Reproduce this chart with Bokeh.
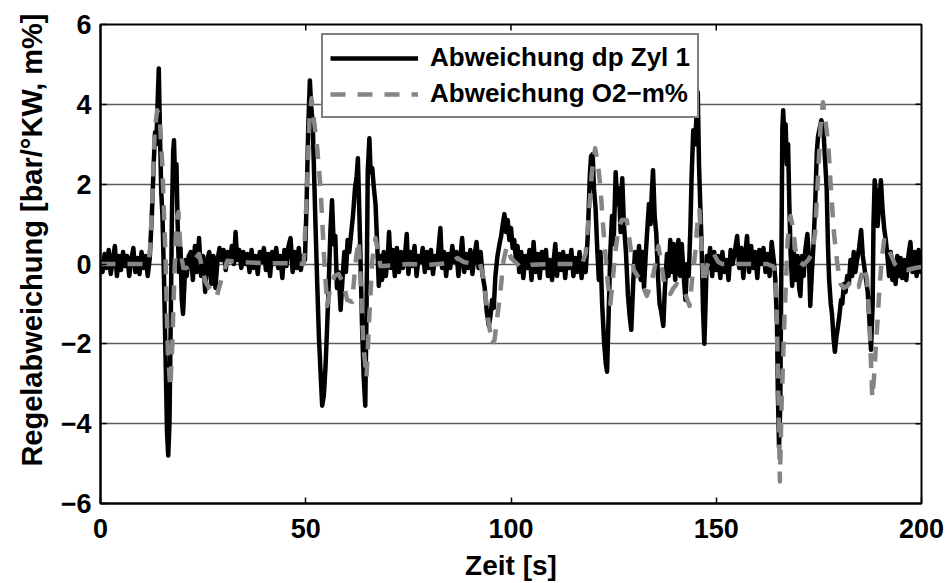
from bokeh.plotting import figure
from bokeh.models import Range1d, FixedTicker, Legend, LegendItem, Title
from bokeh.embed import file_html
from bokeh.resources import INLINE

# Achsen-Ticks
x_ticks = [0, 50, 100, 150, 200]
y_ticks = [-6, -4, -2, 0, 2, 4, 6]
y_tick_labels = {-6: "\u22126", -4: "\u22124", -2: "\u22122", 0: "0", 2: "2", 4: "4", 6: "6"}

# Regelabweichung dp Zylinder 1: (Zeit [s], Wert)
dp_zyl1_punkte = [
    (0.0, 0.1), (0.5, -0.2), (1.0, 0.25), (1.5, -0.1), (2.0, 0.35), (2.5, -0.25), (3.0, 0.1), (3.5, 0.45),
    (4.0, -0.3), (4.5, 0.2), (5.0, -0.15), (5.5, 0.3), (6.0, -0.05), (6.5, 0.2), (7.0, -0.3), (7.5, 0.1),
    (8.0, 0.4), (8.5, -0.2), (9.0, 0.15), (9.5, -0.25), (10.0, 0.3), (10.5, -0.1), (11.0, 0.2), (11.5, -0.3),
    (12.0, 0.15), (12.5, 1.2), (13.0, 2.6), (13.3, 3.3), (13.6, 3.0), (13.9, 4.0), (14.2, 4.9), (14.5, 3.2),
    (14.8, 1.8), (15.1, 1.2), (15.5, -0.5), (15.9, -2.6), (16.2, -4.2), (16.5, -4.8), (16.8, -4.0), (17.1, -1.5),
    (17.4, 1.2), (17.7, 2.8), (17.9, 3.1), (18.2, 2.0), (18.5, 2.5), (18.8, 1.0), (19.1, -0.2), (19.5, 0.4),
    (19.8, -0.9), (20.1, -1.25), (20.4, -0.6), (20.7, 0.1), (21.0, -0.3), (21.5, 0.2), (22.0, 0.3), (22.5, -0.4),
    (23.0, 0.45), (23.5, -0.2), (24.0, 0.65), (24.5, -0.3), (25.0, 0.2), (25.5, -0.7), (26.0, 0.1), (26.5, 0.3),
    (27.0, -0.5), (27.5, 0.2), (28.0, -0.6), (28.5, 0.1), (29.0, 0.4), (29.5, 0.1), (30.0, 0.35), (30.5, -0.15),
    (31.0, 0.3), (31.5, 0.1), (32.0, 0.45), (32.5, 0.0), (32.9, 0.8), (33.3, 0.1), (33.8, 0.35), (34.3, -0.1),
    (34.8, 0.3), (35.3, 0.0), (35.8, 0.25), (36.3, -0.2), (36.8, 0.35), (37.3, -0.1), (37.8, 0.2), (38.3, -0.25),
    (38.8, 0.3), (39.3, 0.05), (39.8, 0.4), (40.3, -0.15), (40.8, 0.25), (41.3, -0.3), (41.8, 0.3), (42.3, 0.0),
    (42.8, 0.4), (43.3, -0.1), (43.8, 0.2), (44.3, -0.35), (44.8, 0.35), (45.3, -0.05), (45.8, 0.45), (46.3, 0.65),
    (46.8, -0.2), (47.3, 0.3), (47.8, -0.1), (48.3, 0.4), (48.8, -0.15), (49.3, 0.2), (49.8, 0.1), (50.2, 1.5),
    (50.6, 3.4), (51.0, 4.6), (51.3, 4.0), (51.7, 3.5), (52.1, 2.0), (52.4, 0.9), (52.8, -0.5), (53.2, -1.8),
    (53.6, -2.7), (54.0, -3.55), (54.4, -3.3), (54.8, -2.6), (55.2, -1.6), (55.6, -0.5), (56.0, 0.8), (56.4, 1.6),
    (56.8, 0.5), (57.2, 0.7), (57.6, -0.6), (58.0, -0.2), (58.5, -1.15), (59.0, -0.3), (59.4, 0.3), (59.8, -0.2),
    (60.2, 0.6), (60.6, 0.3), (61.0, 0.7), (61.5, 1.2), (62.0, 1.9), (62.4, 2.2), (62.7, 2.65), (63.0, 1.5),
    (63.3, 0.3), (63.7, -1.5), (64.1, -2.8), (64.5, -3.55), (64.8, -1.2), (65.1, 2.3), (65.5, 3.15), (65.8, 2.3),
    (66.2, 2.4), (66.6, 1.9), (67.0, 1.5), (67.4, 0.5), (67.8, -0.55), (68.2, 0.2), (68.6, -0.4), (69.0, 0.3),
    (69.5, -0.3), (70.0, 0.2), (70.3, 0.8), (70.7, -0.1), (71.2, 0.35), (71.7, -0.3), (72.2, 0.4), (72.7, -0.2),
    (73.2, 0.3), (73.7, -0.1), (74.2, 0.25), (74.6, 0.75), (75.0, -0.25), (75.5, 0.3), (76.0, -0.05), (76.5, 0.45),
    (77.0, -0.3), (77.5, 0.2), (78.0, 0.05), (78.5, 0.4), (79.0, -0.2), (79.5, 0.3), (80.0, -0.1), (80.5, 0.35),
    (81.0, -0.25), (81.5, 0.2), (82.0, 0.0), (82.4, 0.45), (82.8, 0.9), (83.2, -0.1), (83.7, 0.3), (84.2, -0.3),
    (84.7, 0.25), (85.2, -0.1), (85.7, 0.45), (86.2, 0.05), (86.7, 0.3), (87.2, -0.3), (87.7, 0.2), (88.1, 0.65),
    (88.6, -0.2), (89.1, 0.25), (89.6, -0.1), (90.1, 0.35), (90.6, -0.25), (91.1, 0.2), (91.6, 0.55), (92.1, -0.1),
    (92.6, 0.3), (93.1, -0.3), (93.6, -0.6), (94.1, -1.2), (94.6, -1.55), (95.0, -1.3), (95.4, -0.9), (95.8, -1.1),
    (96.2, -0.3), (96.7, 0.2), (97.2, 0.5), (97.6, 0.7), (98.0, 1.0), (98.4, 1.25), (98.8, 0.8), (99.2, 1.1),
    (99.6, 0.6), (100.0, 0.9), (100.4, 0.4), (100.8, 0.6), (101.2, 0.1), (101.6, 0.45), (102.0, -0.2), (102.5, 0.3),
    (103.0, -0.35), (103.5, 0.2), (104.0, -0.1), (104.5, 0.35), (105.0, -0.4), (105.5, 0.55), (106.0, -0.2), (106.5, 0.25),
    (107.0, -0.35), (107.5, 0.3), (108.0, -0.1), (108.5, 0.35), (109.0, -0.3), (109.5, 0.1), (110.0, -0.4), (110.5, 0.2),
    (110.8, 0.5), (111.2, -0.3), (111.7, 0.25), (112.2, -0.15), (112.7, 0.3), (113.2, -0.35), (113.7, 0.2), (114.2, -0.1),
    (114.7, 0.35), (115.2, -0.3), (115.7, 0.15), (116.2, -0.2), (116.7, 0.3), (117.2, -0.35), (117.7, 0.1), (118.2, -0.2),
    (118.7, 0.7), (119.2, 2.2), (119.5, 2.7), (119.9, 2.75), (120.2, 1.9), (120.6, 1.4), (121.0, 0.4), (121.4, -0.4),
    (121.8, 0.3), (122.2, -1.0), (122.7, -2.0), (123.1, -2.5), (123.4, -2.7), (123.8, -1.2), (124.2, 0.3), (124.6, 1.2),
    (125.0, 0.5), (125.5, 2.3), (125.9, 1.5), (126.3, 1.9), (126.7, 0.8), (127.1, 2.15), (127.5, 1.0), (128.0, 0.3),
    (128.5, -0.8), (128.9, -1.3), (129.3, -1.65), (129.8, -0.4), (130.2, 0.3), (130.7, -0.2), (131.2, 0.45), (131.6, -0.4),
    (132.0, 0.3), (132.4, -0.6), (132.8, 0.2), (133.1, 0.7), (133.6, 1.5), (134.0, 1.0), (134.3, 1.8), (134.6, 2.35),
    (135.0, 1.2), (135.4, 0.75), (135.8, -0.3), (136.2, -1.0), (136.6, -1.2), (137.1, -1.55), (137.5, -0.6), (138.0, 0.25),
    (138.4, -0.3), (138.8, 0.6), (139.2, -0.2), (139.6, 0.5), (140.0, -0.4), (140.4, 0.3), (140.8, 0.6), (141.2, -0.3),
    (141.6, 0.5), (142.0, -0.2), (142.5, -0.9), (142.9, 0.0), (143.3, -0.3), (143.7, 0.9), (144.0, 2.2), (144.4, 3.35),
    (144.8, 3.0), (145.2, 3.7), (145.5, 4.3), (145.8, 2.5), (146.1, 1.5), (146.4, 0.6), (146.8, -1.2), (147.1, -2.0),
    (147.4, -1.0), (147.7, 0.2), (148.1, -0.1), (148.5, 0.4), (149.0, -0.3), (149.5, 0.3), (150.0, -0.15), (150.5, 0.2),
    (151.0, -0.35), (151.5, 0.3), (152.0, -0.2), (152.5, 0.1), (153.0, -0.4), (153.5, 0.35), (154.0, 0.0), (154.5, 0.3),
    (155.1, 0.7), (155.6, -0.1), (156.1, 0.4), (156.6, -0.35), (157.0, 0.2), (157.5, 0.7), (158.0, -0.2), (158.5, 0.45),
    (159.0, -0.1), (159.5, 0.3), (160.0, -0.35), (160.5, 0.35), (161.0, 0.0), (161.5, 0.4), (162.0, -0.2), (162.5, 0.25),
    (163.0, -0.3), (163.5, 0.55), (164.0, 0.1), (164.4, -0.4), (164.8, -1.5), (165.0, -3.2), (165.3, -4.6), (165.6, -3.5),
    (165.9, 0.5), (166.1, 3.4), (166.3, 3.85), (166.6, 3.2), (166.9, 3.5), (167.2, 2.5), (167.5, 3.0), (167.8, 1.5),
    (168.1, 0.3), (168.5, -0.55), (168.9, 0.3), (169.3, -0.4), (169.8, 0.2), (170.2, -0.6), (170.5, -0.8), (170.9, 0.2),
    (171.3, -0.3), (171.7, 0.35), (172.2, 0.75), (172.6, 0.1), (172.9, -1.05), (173.3, -0.2), (173.7, 0.5), (174.1, 1.5),
    (174.5, 2.8), (174.8, 3.2), (175.2, 3.4), (175.6, 3.6), (176.1, 3.4), (176.5, 2.6), (176.9, 1.9), (177.2, 0.5),
    (177.5, -0.4), (177.9, -1.0), (178.2, -1.25), (178.6, -1.9), (178.9, -2.2), (179.3, -1.8), (179.6, -1.6), (180.0, -1.3),
    (180.4, -0.9), (180.7, -1.0), (181.1, -0.5), (181.5, -0.7), (181.9, -0.3), (182.3, -0.5), (182.7, 0.1), (183.1, -0.3),
    (183.5, 0.3), (183.9, -0.2), (184.3, 0.1), (184.8, 0.4), (185.3, 0.85), (185.7, 0.2), (186.1, -0.1), (186.5, -0.4),
    (186.9, -0.7), (187.3, -1.4), (187.7, -2.15), (188.1, -1.0), (188.3, 1.0), (188.6, 2.1), (188.9, 1.8), (189.3, 0.95),
    (189.7, 1.5), (190.1, 2.1), (190.5, 1.4), (190.9, 0.9), (191.3, 0.6), (191.7, 0.2), (192.1, -0.3), (192.5, 0.3),
    (192.9, -0.4), (193.3, 0.0), (193.7, -0.5), (194.1, 0.2), (194.5, -0.3), (194.9, 0.15), (195.3, -0.35), (195.8, 0.1),
    (196.3, -0.4), (196.8, 0.2), (197.3, 0.55), (197.8, -0.2), (198.3, 0.3), (198.8, -0.3), (199.3, 0.35), (199.8, -0.2),
    (200.0, 0.1),
]

# Regelabweichung O2-Massenanteil: (Zeit [s], Wert)
o2_punkte = [
    (0.0, 0.0), (11.5, 0.0), (12.0, 0.27), (12.6, 1.5), (13.2, 3.35), (13.8, 3.85), (14.4, 3.7), (15.0, 2.6),
    (15.4, 1.5), (15.8, 0.3), (16.4, -2.2), (17.0, -3.1), (17.5, -2.0), (17.9, -0.6), (18.5, 1.1), (19.0, 1.3),
    (19.5, 0.3), (20.2, -0.1), (21.0, -0.1), (22.3, 0.0), (23.2, 0.15), (24.0, 0.25), (25.0, -0.2), (25.6, -0.45),
    (26.6, -0.62), (28.3, -0.82), (29.6, -0.32), (30.9, 0.08), (33.3, 0.05), (40.0, 0.02), (46.3, 0.02), (49.5, 0.0),
    (50.3, 1.9), (50.9, 3.6), (51.4, 4.15), (52.0, 3.6), (52.8, 2.9), (53.6, 1.9), (54.4, 0.3), (55.2, -1.05),
    (56.0, -0.6), (57.0, -0.3), (58.0, -0.25), (59.2, -0.5), (60.1, -0.9), (61.3, -0.95), (62.2, 0.1), (62.9, 0.6),
    (63.4, -0.5), (64.1, -2.1), (64.8, -2.85), (65.4, -1.5), (66.2, 0.1), (67.0, 0.65), (67.6, 0.3), (68.2, -0.05),
    (69.0, -0.05), (75.0, 0.0), (80.0, -0.02), (85.0, 0.02), (86.9, 0.15), (88.5, 0.05), (90.0, 0.02), (92.5, 0.0),
    (93.2, -0.3), (93.8, -0.8), (94.6, -1.5), (95.4, -2.0), (96.0, -1.9), (96.7, -1.3), (97.4, -0.7), (98.2, 0.1),
    (99.0, 0.45), (100.0, 0.15), (101.0, 0.05), (102.0, -0.05), (103.1, -0.08), (105.0, -0.02), (110.0, 0.0), (117.3, 0.0),
    (118.2, 0.27), (119.0, 1.3), (119.7, 2.3), (120.5, 2.9), (121.2, 2.5), (121.8, 1.9), (122.4, 1.0), (123.0, 0.25),
    (123.6, -0.5), (124.2, -1.0), (124.8, -0.4), (125.4, 0.3), (126.2, 0.9), (127.0, 1.1), (128.2, 1.1), (129.0, 0.5),
    (129.9, -0.15), (131.5, -0.4), (132.3, -0.6), (133.1, -0.8), (134.0, -0.5), (134.7, -0.25), (135.9, 0.45), (136.5, 0.1),
    (137.2, -0.4), (138.0, -0.6), (138.8, -0.75), (139.6, -0.6), (140.4, -0.5), (141.2, -0.55), (142.0, -0.65), (142.8, -0.85),
    (143.5, -1.05), (144.2, -0.3), (144.9, 0.3), (145.4, 1.0), (145.9, 1.35), (146.4, 0.5), (146.9, -0.5), (147.8, -0.05),
    (148.6, 0.2), (149.4, 0.25), (150.5, 0.05), (151.5, 0.0), (155.0, 0.0), (160.0, 0.0), (162.4, 0.0), (164.0, -0.07),
    (164.6, -0.6), (165.1, -3.1), (165.5, -5.45), (165.9, -3.6), (166.6, -1.4), (167.4, 0.6), (168.1, 1.2), (168.7, 0.9),
    (169.3, 0.35), (170.3, 0.05), (171.3, -0.02), (172.4, 0.1), (173.4, 0.27), (174.1, 0.8), (174.6, 1.8), (175.4, 3.45),
    (176.0, 4.05), (176.9, 3.35), (177.4, 2.8), (177.8, 2.1), (178.7, 0.75), (179.5, 0.0), (180.3, -0.5), (181.1, -0.6),
    (181.9, -0.55), (182.7, -0.45), (183.5, -0.4), (184.1, -0.5), (184.7, -0.57), (185.3, -0.3), (185.9, -0.07), (186.7, -0.35),
    (187.2, -1.2), (187.6, -2.2), (188.0, -3.35), (188.4, -2.9), (188.8, -2.2), (189.3, -1.4), (189.7, -0.7), (190.3, 0.1),
    (190.9, 0.6), (191.7, 0.4), (192.5, 0.25), (193.5, 0.0), (194.5, -0.12), (196.6, -0.15), (198.5, -0.1), (200.0, -0.07),
]

zeit_dp = [t for t, _ in dp_zyl1_punkte]
dp_zyl1 = [v for _, v in dp_zyl1_punkte]
zeit_o2 = [t for t, _ in o2_punkte]
o2_m = [v for _, v in o2_punkte]

FONT = "Liberation Sans"
X_MIN, X_MAX, Y_MIN, Y_MAX = 0, 200, -6, 6

p = figure(
    width=950, height=583,
    x_range=Range1d(X_MIN, X_MAX), y_range=Range1d(Y_MIN, Y_MAX),
    output_backend="svg", toolbar_location=None,
    min_border_left=100, min_border_right=29, min_border_top=24, min_border_bottom=80,
)
p.background_fill_color = "white"
p.border_fill_color = "white"
p.outline_line_color = "black"
p.outline_line_width = 2

# Gitter nur horizontal
p.xgrid.visible = False
p.ygrid.ticker = FixedTicker(ticks=y_ticks)
p.ygrid.grid_line_color = "#5c5c5c"
p.ygrid.grid_line_width = 1.3


def style_axis(ax, ticks):
    ax.ticker = FixedTicker(ticks=ticks)
    ax.major_tick_in = 6
    ax.major_tick_out = 0
    ax.minor_tick_in = 0
    ax.minor_tick_out = 0
    ax.major_tick_line_color = "black"
    ax.major_tick_line_width = 1.5
    ax.axis_line_color = "black"
    ax.axis_line_width = 2
    ax.major_label_text_font = FONT
    ax.major_label_text_font_style = "bold"
    ax.major_label_text_font_size = "27px"
    ax.major_label_text_color = "black"
    ax.axis_label_text_font = FONT
    ax.axis_label_text_font_style = "bold"
    ax.axis_label_text_font_size = "28px"
    ax.axis_label_text_color = "black"


xa = p.xaxis[0]
style_axis(xa, x_ticks)
xa.axis_label = "Zeit [s]"
xa.major_label_standoff = 15
xa.axis_label_standoff = 9

ya = p.yaxis[0]
style_axis(ya, y_ticks)
ya.major_label_overrides = y_tick_labels
ya.major_label_standoff = 9

# y-Beschriftung als eigener Titel, nach oben versetzt
y_title = Title(
    text="Regelabweichung [bar/°KW, m%]",
    align="right", offset=-11,
    text_font=FONT, text_font_style="bold", text_font_size="29px",
    text_color="black", standoff=20,
)
p.add_layout(y_title, "left")

# Innen-Ticks an der oberen und rechten Rahmenkante
tick_len_y = 0.15
tick_len_x = 1.46
top_x = [t for t in x_ticks if X_MIN < t < X_MAX]
p.segment(x0=top_x, y0=[Y_MAX] * len(top_x), x1=top_x, y1=[Y_MAX - tick_len_y] * len(top_x),
          line_color="black", line_width=1.5)
right_y = [t for t in y_ticks if Y_MIN < t < Y_MAX]
p.segment(x0=[X_MAX] * len(right_y), y0=right_y, x1=[X_MAX - tick_len_x] * len(right_y), y1=right_y,
          line_color="black", line_width=1.5)

r_dp = p.line(zeit_dp, dp_zyl1, line_color="black", line_width=4.5, line_join="round")
r_o2 = p.line(zeit_o2, o2_m, line_color="#858585", line_width=4.5, line_dash="15 12", line_join="round")

legend = Legend(
    items=[
        LegendItem(label="Abweichung dp Zyl 1", renderers=[r_dp]),
        LegendItem(label="Abweichung O2\u2212m%", renderers=[r_o2]),
    ],
    location=(221, 385),
    orientation="vertical",
    label_text_font=FONT,
    label_text_font_style="bold",
    label_text_font_size="26px",
    label_text_color="black",
    label_standoff=12,
    label_height=30,
    glyph_width=88,
    glyph_height=30,
    spacing=5,
    padding=7,
    margin=0,
    border_line_color="black",
    border_line_width=2,
    background_fill_color="white",
    background_fill_alpha=1.0,
)
p.add_layout(legend)

open("out.html", "w").write(file_html(p, INLINE))
